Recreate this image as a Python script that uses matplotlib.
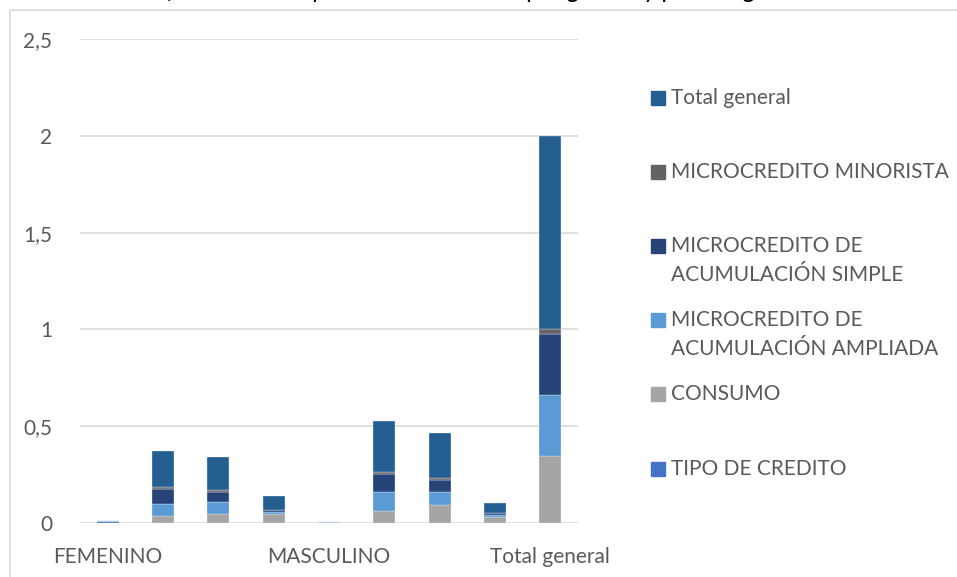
import matplotlib.pyplot as plt
from matplotlib.patches import Rectangle
from matplotlib.ticker import FuncFormatter

plt.rcParams['font.family'] = ['Lato', 'DejaVu Sans']

# categorías del eje x (solo tres llevan etiqueta)
categorias = ['FEMENINO', '', '', '', 'MASCULINO', '', '', '', 'Total general']

# series apiladas (de abajo hacia arriba)
tipo_credito = [0.008, 0, 0, 0, 0.004, 0, 0, 0, 0]
consumo = [0, 0.036, 0.046, 0.045, 0, 0.063, 0.091, 0.033, 0.345]
acum_ampliada = [0, 0.062, 0.060, 0.012, 0, 0.096, 0.069, 0.010, 0.315]
acum_simple = [0, 0.079, 0.053, 0.010, 0, 0.096, 0.064, 0.007, 0.314]
minorista = [0, 0.009, 0.010, 0.002, 0, 0.008, 0.009, 0.002, 0.026]
total_general = [0, 0.186, 0.170, 0.069, 0, 0.263, 0.233, 0.052, 1.0]

series = [
    ('TIPO DE CREDITO', tipo_credito, '#4472C4'),
    ('CONSUMO', consumo, '#A5A5A5'),
    ('MICROCREDITO DE\nACUMULACIÓN AMPLIADA', acum_ampliada, '#5B9BD5'),
    ('MICROCREDITO DE\nACUMULACIÓN SIMPLE', acum_simple, '#264478'),
    ('MICROCREDITO MINORISTA', minorista, '#636363'),
    ('Total general', total_general, '#255E91'),
]

W, H = 957, 577
FS = 15
fig = plt.figure(figsize=(W / 100, H / 100), dpi=100)
ax = fig.add_axes([80 / W, (H - 523) / H, 498 / W, 484 / H])

x = list(range(len(categorias)))
base = [0.0] * len(categorias)
for nombre, vals, color in series:
    ax.bar(x, vals, width=0.4, bottom=base, color=color,
           edgecolor='#EAF0F7', linewidth=0.25, label=nombre, zorder=3)
    base = [b + v for b, v in zip(base, vals)]

ax.set_xlim(-0.5, len(categorias) - 0.5)
ax.set_ylim(0, 2.5)
ax.set_yticks([0, 0.5, 1, 1.5, 2, 2.5])
ax.yaxis.set_major_formatter(FuncFormatter(lambda v, p: f'{v:g}'.replace('.', ',')))
ax.set_xticks(x)
ax.set_xticklabels(categorias)
ax.tick_params(length=0, labelsize=FS, labelcolor='#595959')
ax.tick_params(axis='y', pad=20)
ax.tick_params(axis='x', pad=17)
ax.yaxis.grid(True, color='#D9D9D9', linewidth=1.2, zorder=0)
for s in ax.spines.values():
    s.set_visible(False)

# leyenda dibujada a mano, como en Excel (marcador alineado con la primera línea)
leyenda_y = [469, 394, 320, 246, 172, 98]
for (nombre, vals, color), yy in zip(series, leyenda_y):
    fig.patches.append(Rectangle((651 / W, (H - yy - 7) / H), 14 / W, 14 / H,
                                 transform=fig.transFigure, color=color))
    lineas = nombre.split('\n')
    for k, linea in enumerate(lineas):
        fig.text(671 / W, (H - yy - 29 * k) / H, linea, fontsize=FS,
                 color='#595959', va='center', ha='left')

# marco del gráfico
fig.patches.append(Rectangle((10 / W, -0.1), 1.2, 1.1 - 10 / H,
                             transform=fig.transFigure, fill=False,
                             edgecolor='#D9D9D9', linewidth=1.2))

# título (recortado en la parte superior)
fig.text(475 / W, 1 + 2 / H, 'Gráfico 1: Monto promedio de crédito por género y por antigüedad',
         ha='center', va='baseline', fontsize=18, fontstyle='italic', color='#000000')

fig.savefig('out.png', dpi=100)
